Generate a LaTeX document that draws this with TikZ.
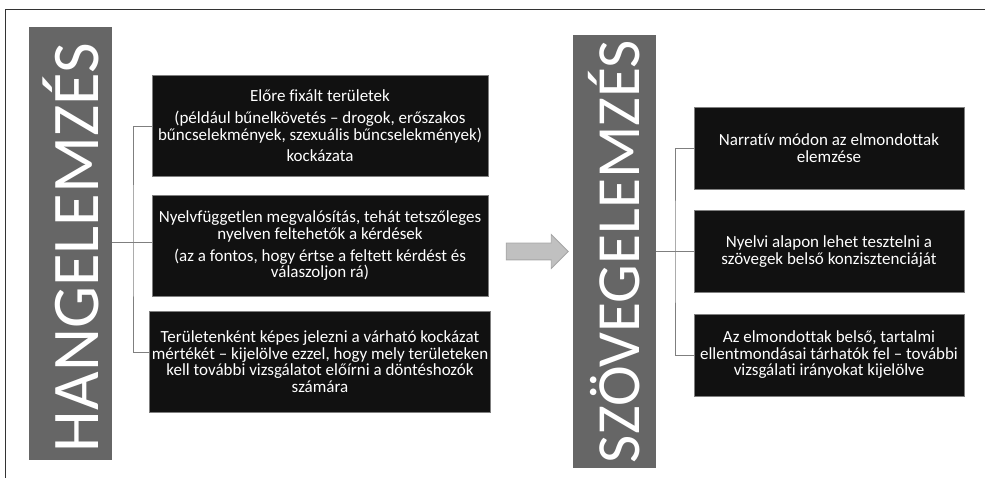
\documentclass[tikz,border=0pt]{standalone}
\usepackage{fontspec}
\setmainfont[Ligatures=NoCommon]{Carlito}
\usepackage{tikz}
\usetikzlibrary{shapes.arrows}
\definecolor{BarGray}{HTML}{666666}
\definecolor{BoxBlack}{HTML}{111111}
\definecolor{EdgeGray}{HTML}{7F7F7F}
\definecolor{ArrowFill}{HTML}{C0C0C0}
\definecolor{ArrowEdge}{HTML}{A6A6A6}
\definecolor{FrameLine}{HTML}{333333}

\begin{document}
\begin{tikzpicture}[
    x=0.75pt, y=0.75pt,
    every node/.style={font=\fontsize{12.75pt}{12.4pt}\selectfont},
    graybar/.style={fill=BarGray, draw=none, minimum width=62.25pt, minimum height=324.75pt, inner sep=0pt},
    bartext/.style={text=white, inner sep=0pt},
    infobox/.style={fill=BoxBlack, draw=EdgeGray, line width=0.6pt, text=white, align=center, inner sep=2pt},
    leftbox/.style={infobox, minimum width=252pt, minimum height=75.75pt},
    rightbox/.style={infobox, minimum width=202.5pt, minimum height=61.5pt},
    link/.style={draw=EdgeGray, line width=0.6pt}
]
\useasboundingbox (0,0) rectangle (985,478);
\draw[FrameLine, line width=0.6pt] (985,469) -- (5.5,469) -- (5.5,0);

% hangelemzes
\node[graybar] (hbar) at (70.5,234.5) {};
\node[bartext, rotate=90, font=\fontsize{50pt}{50pt}\selectfont] (htext) at ([yshift=-3pt]hbar) {HANGELEMZÉS};
\node[leftbox] (hb1) at (320,352) {Előre fixált területek\\[4pt]
    (például bűnelkövetés – drogok, erőszakos\\bűncselekmények, szexuális bűncselekmények)\\[4pt]
    kockázata};
\node[leftbox] (hb2) at (320,232) {Nyelvfüggetlen megvalósítás, tehát tetszőleges\\nyelven feltehetők a kérdések\\[4pt]
    (az a fontos, hogy értse a feltett kérdést és\\válaszoljon rá)};
\node[leftbox] (hb3) at (320,116.5) {Területenként képes jelezni a várható kockázat\\mértékét – kijelölve ezzel, hogy mely területeken\\kell további vizsgálatot előírni a döntéshozók\\számára};

\coordinate (hfork) at (133,236);
\draw[link] (hbar.east |- hfork) -- (hfork);
\draw[link] (hfork) -- ([yshift=3pt]hb2.west);
\draw[link] (hb1.west) -| (hfork) |- ([yshift=7pt]hb3.west);

\node[single arrow, fill=ArrowFill, draw=ArrowEdge, line width=0.6pt, inner sep=0pt, inner ysep=6pt,
    minimum height=46.5pt, minimum width=24.75pt, single arrow head extend=6.4pt] (flow) at (533,226.5) {};

% szovegelemzes
\node[graybar] (sbar) at (614.5,226.5) {};
\node[bartext, rotate=90, font=\fontsize{46pt}{46pt}\selectfont] (stext) at (sbar) {SZÖVEGELEMZÉS};
\node[rightbox] (sb1) at (829,330) {Narratív módon az elmondottak\\elemzése};
\node[rightbox] (sb2) at (829,226.5) {Nyelvi alapon lehet tesztelni a\\szövegek belső konzisztenciáját};
\node[rightbox] (sb3) at (829,123) {Az elmondottak belső, tartalmi\\ellentmondásai tárhatók fel – további\\vizsgálati irányokat kijelölve};

\coordinate (sfork) at (675,226.5);
\draw[link] (sbar.east) -- (sb2.west);
\draw[link] (sb1.west) -| (sfork) |- (sb3.west);
\end{tikzpicture}
\end{document}
